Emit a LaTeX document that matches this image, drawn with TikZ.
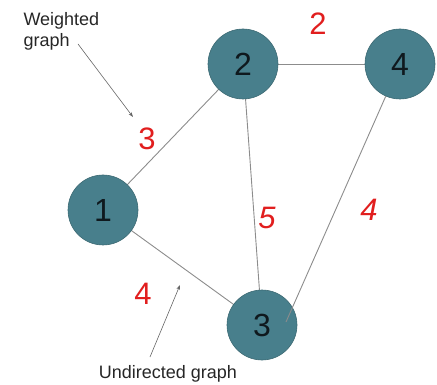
\documentclass[tikz,border=0pt]{standalone}
\usepackage{fontspec}
\setmainfont{Liberation Sans}
\usetikzlibrary{arrows.meta}
\definecolor{teal1}{RGB}{72,127,140}
\definecolor{tealb}{RGB}{60,105,115}
\definecolor{wred}{RGB}{225,30,30}
\definecolor{edgeg}{RGB}{140,140,140}
\definecolor{nodetext}{RGB}{15,25,30}
\begin{document}
\begin{tikzpicture}[x=1pt,y=-1pt,
  vert/.style={circle,fill=teal1,draw=tealb,line width=0.6pt,minimum size=70pt,inner sep=0pt,font=\fontsize{32}{32}\selectfont,text=nodetext},
  edge/.style={draw=edgeg,line width=0.9pt},
  wt/.style={text=wred,font=\fontsize{31}{31}\selectfont},
  note/.style={font=\fontsize{18}{21}\selectfont,text=black!85,align=left},
  pointer/.style={draw=black!60,line width=0.6pt,-{Stealth[length=5pt,width=3.5pt]}}]
\useasboundingbox (0,0) rectangle (437,385);
\coordinate (c3in) at (286,322);
\draw[edge] (103,210) -- (243,64);
\draw[edge] (243,64) -- (400,64);
\draw[edge] (243,64) -- (262,325);
\draw[edge] (103,210) -- (262,325);
\node[vert] (n1) at (103,210) {1};
\node[vert] (n2) at (243,64) {2};
\node[vert] (n4) at (400,64) {4};
\node[vert] (n3) at (262,325) {3};
\draw[edge] (n4) -- (c3in);
\node[wt] (w24) at (318,24) {2};
\node[wt] (w12) at (147,139) {3};
\node[wt] (w23) at (267,218) {\itshape 5};
\node[wt] (w43) at (369,210) {\itshape 4};
\node[wt] (w13) at (143,294) {4};
\node[note,anchor=north west] (lw) at (20,9) {Weighted\\graph};
\node[note] (lu) at (168,374) {Undirected graph};
\coordinate (aw1) at (78,44);
\coordinate (aw2) at (133,117);
\coordinate (au1) at (150,357);
\coordinate (au2) at (180,285);
\draw[pointer] (aw1) -- (aw2);
\draw[pointer] (au1) -- (au2);
\end{tikzpicture}
\end{document}
